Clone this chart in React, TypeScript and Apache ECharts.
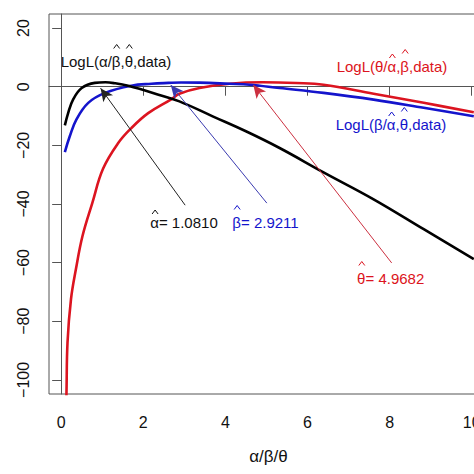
import React, { useEffect, useRef } from "react";
import * as echarts from "echarts";

const FONT = '"Liberation Sans", Arial, Helvetica, sans-serif';

// Profile log-likelihood curves (x = parameter value, y = LogL)
const alphaX = [0.09, 0.17, 0.29, 0.5, 0.82, 1.08, 1.3, 1.63, 2.37, 2.88, 3.69, 4.5, 5.32, 6.39, 7.61, 8.83, 10.05];
const alphaY = [-13.2, -9.0, -4.4, -0.45, 1.3, 1.5, 1.2, 0.3, -2.7, -5.0, -10.1, -15.2, -20.9, -29.2, -38.4, -48.6, -58.8];

const betaX = [0.09, 0.21, 0.37, 0.66, 1.07, 1.71, 2.2, 2.61, 2.92, 3.37, 4.1, 4.59, 5.32, 6.39, 7.61, 8.83, 10.05];
const betaY = [-22.3, -16.9, -11.2, -5.5, -2.1, 0.34, 1.0, 1.3, 1.45, 1.4, 1.0, 0.68, -0.45, -2.1, -4.4, -7.2, -10.1];

const thetaX = [0.12, 0.13, 0.155, 0.24, 0.36, 0.52, 0.76, 1.02, 1.39, 1.71, 2.12, 2.69, 2.88, 3.37, 4.1, 4.91, 5.72, 6.39, 7.61, 8.83, 10.05];
const thetaY = [-110, -104.2, -87.2, -72.4, -62.2, -50.9, -39.6, -28, -19.2, -14.1, -9.0, -4.2, -2.4, -0.45, 1.0, 1.5, 1.25, 0.68, -2.4, -5.5, -8.7];

// Arrows: [tail, tip] in data coordinates
const alphaArrow = [[3.02, -40.4], [0.96, -0.5]];
const betaArrow = [[5.01, -39.7], [2.67, 0.6]];
const thetaArrow = [[8.05, -60.1], [4.68, 0.6]];

// Tick values
const xTicks = [0, 2, 4, 6, 8, 10];
const yTicks = [-100, -80, -60, -40, -20, 0, 20];

// Labels: segments, a segment starting with "^" carries a hat over its letter
const alphaLabel = ["LogL(\u03B1/", "^\u03B2", ",", "^\u03B8", ",data)"];
const thetaLabel = ["LogL(\u03B8/", "^\u03B1", ",", "^\u03B2", ",data)"];
const betaLabel = ["LogL(\u03B2/", "^\u03B1", ",", "^\u03B8", ",data)"];
const alphaEst = ["^\u03B1", "= 1.0810"];
const betaEst = ["^\u03B2", "= 2.9211"];
const thetaEst = ["^\u03B8", "= 4.9682"];

const BLACK = "#000000";
const BLUE = "#1414cc";
const RED = "#dc1420";

function zip(xs: number[], ys: number[]) {
  return xs.map((x, i) => [x, ys[i]]);
}

function curve(name: string, xs: number[], ys: number[], color: string, arrow: number[][], arrowColor: string) {
  return {
    name,
    type: "line",
    data: zip(xs, ys),
    showSymbol: false,
    symbol: "none",
    smooth: 0.4,
    clip: true,
    lineStyle: { color, width: 2.6 },
    itemStyle: { color },
    markLine: {
      silent: true,
      symbol: ["none", "arrow"],
      symbolSize: [9, 13],
      label: { show: false },
      lineStyle: { color: arrowColor, width: 1, type: "solid" },
      data: [[{ coord: arrow[0] }, { coord: arrow[1] }]],
    },
  };
}

function fmt(v: number) {
  return v < 0 ? "\u2212" + String(-v) : String(v);
}

const measureCtx = document.createElement("canvas").getContext("2d")!;
function measure(s: string, size: number) {
  measureCtx.font = `${size}px "Liberation Sans"`;
  return measureCtx.measureText(s).width;
}

function hatLabel(segs: string[], cx: number, cy: number, color: string, size = 15) {
  const plain = segs.map((s) => (s.startsWith("^") ? s.slice(1) : s)).join("");
  const total = measure(plain, size);
  const els: any[] = [
    {
      type: "text",
      x: cx,
      y: cy,
      style: { text: plain, fill: color, font: `${size}px ${FONT}`, align: "center", verticalAlign: "middle" },
    },
  ];
  let prefix = "";
  for (const s of segs) {
    if (s.startsWith("^")) {
      const ch = s.slice(1);
      const left = measure(prefix, size);
      const w = measure(ch, size);
      const hx = cx - total / 2 + left + w / 2 + 0.5;
      const tall = ch !== "\u03B1";
      const hy = cy - (tall ? 14.5 : 10);
      els.push({
        type: "polyline",
        shape: { points: [[hx - 3, hy + 2], [hx, hy - 2], [hx + 3, hy + 2]] },
        style: { stroke: color, lineWidth: 1, fill: "none" },
      });
      prefix += ch;
    } else {
      prefix += s;
    }
  }
  return { type: "group", children: els };
}

export default function App() {
  const ref = useRef<HTMLDivElement>(null);
  useEffect(() => {
    const chart = echarts.init(ref.current!, null, { renderer: "svg" });
    chart.setOption({
      animation: false,
      backgroundColor: "#ffffff",
      textStyle: { fontFamily: FONT },
      grid: {
        left: 49,
        top: 14,
        right: 2,
        bottom: 80,
        show: true,
        borderColor: "#555",
        borderWidth: 1,
        backgroundColor: "transparent",
      },
      xAxis: {
        type: "value",
        min: -0.296,
        max: 10.396,
        name: "\u03B1/\u03B2/\u03B8",
        nameLocation: "middle",
        nameGap: 54,
        nameTextStyle: { fontSize: 17, color: "#111", fontFamily: FONT },
        axisLine: { show: true, lineStyle: { color: "#555", width: 1 } },
        axisTick: { show: true, length: 9, lineStyle: { color: "#555" }, customValues: xTicks },
        axisLabel: { fontSize: 16, color: "#111", margin: 20, customValues: xTicks, formatter: fmt },
        splitLine: { show: false },
      },
      yAxis: {
        type: "value",
        min: -104.8,
        max: 24.8,
        axisLine: { show: true, lineStyle: { color: "#555", width: 1 } },
        axisTick: { show: true, length: 9, lineStyle: { color: "#555" }, customValues: yTicks },
        axisLabel: { fontSize: 16, color: "#111", margin: 18, rotate: 90, customValues: yTicks, formatter: fmt },
        splitLine: { show: false },
      },
      series: [
        curve("theta", thetaX, thetaY, RED, thetaArrow, "#cc3040"),
        curve("beta", betaX, betaY, BLUE, betaArrow, "#3a3ab0"),
        curve("alpha", alphaX, alphaY, BLACK, alphaArrow, "#222"),
      ],
      graphic: [
        hatLabel(alphaLabel, 116, 61, "#111"),
        hatLabel(thetaLabel, 392, 66, RED),
        hatLabel(betaLabel, 391, 124, BLUE),
        hatLabel(alphaEst, 184, 222, "#111"),
        hatLabel(betaEst, 265.5, 222, BLUE),
        hatLabel(thetaEst, 390.7, 278, RED),
      ],
    });
    return () => chart.dispose();
  }, []);
  return (
    <div
      ref={ref}
      style={{ position: "fixed", left: 0, top: 0, width: 490, height: 474, background: "#fff" }}
    />
  );
}
